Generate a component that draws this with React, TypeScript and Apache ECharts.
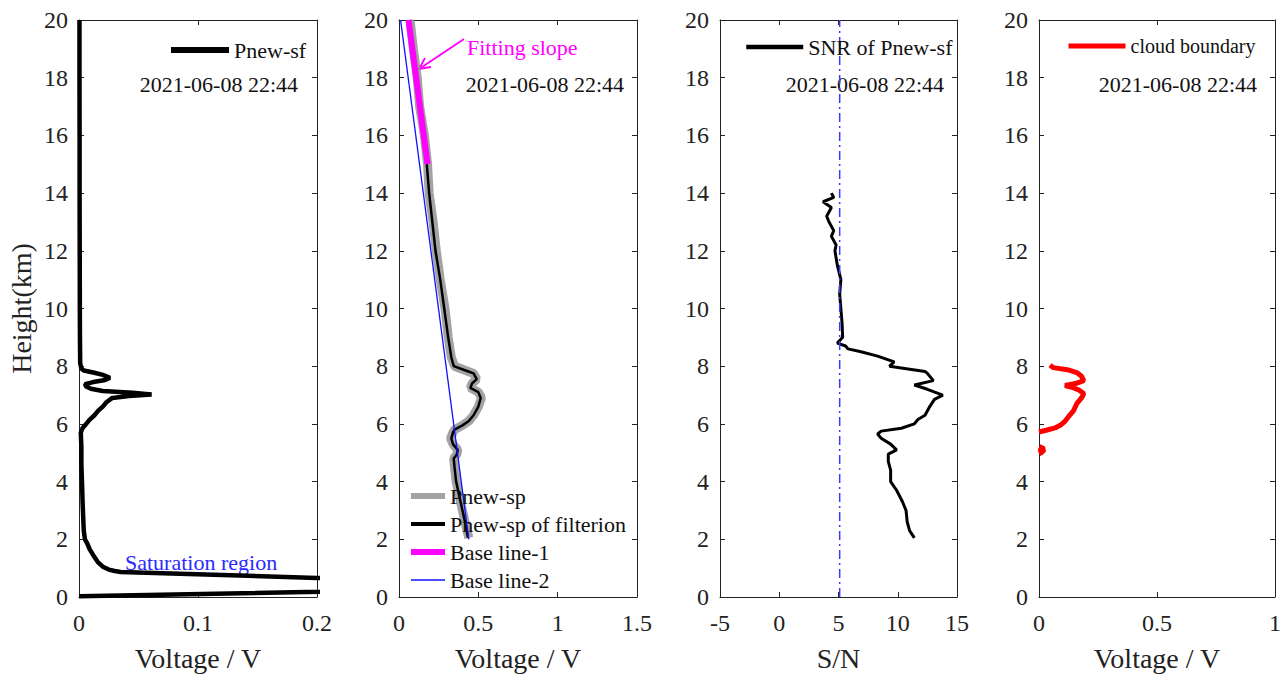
import React, { useEffect, useRef } from "react";
import * as echarts from "echarts";

const FONT = "Liberation Serif";

// Panel 1: Pnew-sf (height km, voltage V)
const sfHeight = [0.03, 0.4, 0.6, 0.66, 0.87, 0.9, 0.95, 1.05, 1.2, 1.45, 1.65, 1.85, 2.0, 2.3, 2.8, 3.3, 4.0, 4.6, 5.2, 5.69, 5.86, 6.0, 6.15, 6.3, 6.45, 6.6, 6.75, 6.9, 6.97, 7.02, 7.08, 7.14, 7.22, 7.3, 7.38, 7.45, 7.52, 7.6, 7.7, 7.78, 7.85, 7.92, 8.1, 9, 10, 12, 14, 16, 18, 20];
const sfVolt = [0.0, 0.5, 0.5, 0.2, 0.035, 0.03, 0.025, 0.02, 0.016, 0.012, 0.009, 0.007, 0.005, 0.004, 0.0035, 0.003, 0.0025, 0.002, 0.002, 0.0015, 0.003, 0.006, 0.009, 0.013, 0.016, 0.02, 0.023, 0.028, 0.042, 0.061, 0.045, 0.02, 0.01, 0.006, 0.005, 0.012, 0.022, 0.026, 0.02, 0.012, 0.004, 0.002, 0.001, 0.0008, 0.0007, 0.0006, 0.0005, 0.0005, 0.0004, 0.0004];

// Panel 2: Pnew-sp, filtered, base lines
const spHeight = [20, 19, 18, 17, 16, 15, 14, 13, 12, 11, 10, 9, 8.3, 8.0, 7.85, 7.75, 7.55, 7.4, 7.25, 7.1, 6.9, 6.6, 6.3, 6.1, 5.95, 5.8, 5.7, 5.5, 5.3, 5.1, 4.95, 4.8, 4.5, 4.0, 3.5, 3.0, 2.5, 2.05];
const spVolt = [0.07, 0.09, 0.115, 0.13, 0.16, 0.18, 0.19, 0.215, 0.235, 0.26, 0.29, 0.31, 0.33, 0.35, 0.42, 0.47, 0.49, 0.46, 0.45, 0.5, 0.52, 0.5, 0.47, 0.44, 0.4, 0.35, 0.34, 0.325, 0.34, 0.37, 0.365, 0.345, 0.35, 0.36, 0.38, 0.4, 0.42, 0.44];
const spFiltVolt = [0.065, 0.085, 0.11, 0.13, 0.155, 0.175, 0.19, 0.21, 0.23, 0.26, 0.285, 0.31, 0.33, 0.345, 0.42, 0.47, 0.49, 0.46, 0.45, 0.5, 0.515, 0.5, 0.47, 0.44, 0.4, 0.35, 0.34, 0.33, 0.34, 0.37, 0.365, 0.345, 0.35, 0.36, 0.38, 0.4, 0.42, 0.435];
const base1Height = [20, 15];
const base1Volt = [0.06, 0.18];
const base2Height = [20, 2];
const base2Volt = [0.01, 0.44];

// Panel 3: SNR
const snrHeight = [14.0, 13.85, 13.7, 13.5, 13.2, 13.0, 12.7, 12.5, 12.2, 12.0, 11.5, 11.0, 10.5, 10.0, 9.5, 9.0, 8.8, 8.7, 8.6, 8.5, 8.35, 8.15, 8.0, 7.82, 7.75, 7.5, 7.35, 7.2, 7.0, 6.85, 6.6, 6.3, 6.15, 6.0, 5.85, 5.75, 5.65, 5.5, 5.3, 5.1, 4.95, 4.7, 4.4, 4.0, 3.7, 3.3, 3.0, 2.6, 2.3, 2.05];
const snrValue = [4.4, 4.6, 3.7, 4.4, 4.0, 4.2, 4.6, 4.4, 4.8, 4.7, 4.9, 5.2, 5.1, 5.2, 5.3, 5.35, 4.9, 5.6, 5.8, 6.9, 8.3, 9.7, 9.3, 12.3, 12.5, 13.0, 11.4, 12.5, 13.8, 13.1, 12.7, 12.3, 11.7, 11.4, 10.3, 8.6, 8.3, 8.6, 9.4, 9.9, 9.2, 9.2, 9.4, 9.4, 9.9, 10.4, 10.7, 10.8, 11.0, 11.4];
const snrThreshold = 5.1;

// Panel 4: cloud boundary
const cloudHeight = [8.04, 7.95, 7.88, 7.78, 7.65, 7.5, 7.41, 7.33, 7.27, 7.17, 7.05, 6.9, 6.7, 6.44, 6.25, 6.09, 5.95, 5.86, 5.78, 5.72];
const cloudVolt = [0.047, 0.06, 0.12, 0.16, 0.18, 0.19, 0.16, 0.11, 0.14, 0.17, 0.19, 0.18, 0.16, 0.145, 0.125, 0.11, 0.09, 0.068, 0.03, 0.0];
const cloudHeight2 = [5.2, 5.12, 5.02, 4.98];
const cloudVolt2 = [0.0, 0.02, 0.01, 0.0];

const dateLabel = "2021-06-08 22:44";
const xNames = ["Voltage / V", "Voltage / V", "S/N", "Voltage / V"];
const xRanges = [
  [0, 0.2, 0.1],
  [0, 1.5, 0.5],
  [-5, 15, 5],
  [0, 1, 0.5],
];

const zip = (xs: number[], ys: number[]) => xs.map((x, i) => [x, ys[i]]);

const AX = "#222";

export default function App() {
  const ref = useRef<HTMLDivElement>(null);
  useEffect(() => {
    if (!ref.current) return;
    const chart = echarts.init(ref.current, null, { renderer: "svg" });
    const lefts = [79, 399, 720, 1039];
    const widths = [238, 238, 237, 236];
    const grid = lefts.map((l, i) => ({ left: l, top: 20, width: widths[i], height: 577 }));
    const xAxis: any[] = [];
    const yAxis: any[] = [];
    grid.forEach((_, i) => {
      const [mn, mx, iv] = xRanges[i];
      const common = {
        type: "value",
        gridIndex: i,
        min: mn,
        max: mx,
        interval: iv,
        splitLine: { show: false },
        axisLine: { show: true, onZero: false, lineStyle: { color: AX, width: 1 } },
        axisTick: { show: true, inside: true, length: 5, lineStyle: { color: AX } },
      };
      xAxis.push({
        ...common,
        position: "bottom",
        name: xNames[i],
        nameLocation: "middle",
        nameGap: 47,
        nameTextStyle: { fontFamily: FONT, fontSize: 28, color: AX },
        axisLabel: { fontFamily: FONT, fontSize: 24, color: AX, margin: 14 },
      });
      xAxis.push({ ...common, position: "top", axisLabel: { show: false } });
      const ycommon = {
        type: "value",
        gridIndex: i,
        min: 0,
        max: 20,
        interval: 2,
        splitLine: { show: false },
        axisLine: { show: true, onZero: false, lineStyle: { color: AX, width: 1 } },
        axisTick: { show: true, inside: true, length: 5, lineStyle: { color: AX } },
      };
      yAxis.push({
        ...ycommon,
        position: "left",
        name: i === 0 ? "Height(km)" : "",
        nameLocation: "middle",
        nameGap: 44,
        nameTextStyle: { fontFamily: FONT, fontSize: 28, color: AX },
        axisLabel: { fontFamily: FONT, fontSize: 24, color: AX, margin: 11 },
      });
      yAxis.push({ ...ycommon, position: "right", axisLabel: { show: false } });
    });

    const line = (name: string, gi: number, data: any[], color: string, width: number, extra: any = {}) => ({
      type: "line",
      name,
      xAxisIndex: gi * 2,
      yAxisIndex: gi * 2,
      data,
      symbol: "none",
      showSymbol: false,
      smooth: false,
      clip: true,
      lineStyle: { color, width, ...(extra.lineStyle || {}) },
      itemStyle: { color },
    });

    const series = [
      line("Pnew-sf", 0, zip(sfVolt, sfHeight), "#000", 4.5),
      line("Pnew-sp", 1, zip(spVolt, spHeight), "#8c8c8c", 9, { lineStyle: { opacity: 0.8 } }),
      line("Pnew-sp of filterion", 1, zip(spFiltVolt, spHeight), "#000", 2.5),
      line("Base line-1", 1, zip(base1Volt, base1Height), "#ff00ff", 6),
      line("Base line-2", 1, zip(base2Volt, base2Height), "#1010ff", 1.3),
      line("SNR of Pnew-sf", 2, zip(snrValue, snrHeight), "#000", 3),
      line("threshold", 2, [[snrThreshold, 0], [snrThreshold, 20]], "#3a3aff", 1.5, {
        lineStyle: { type: [9, 4, 2, 4] },
      }),
      line("cloud boundary", 3, zip(cloudVolt, cloudHeight), "#ff0000", 5),
      line("cloud boundary", 3, zip(cloudVolt2, cloudHeight2), "#ff0000", 6),
    ];

    const legendText = { fontFamily: FONT, fontSize: 22, color: "#111" };
    const hideSym = { opacity: 0, borderWidth: 0 };
    const item = (name: string, w: number) => ({ name, lineStyle: { width: w } });
    const legend = [
      {
        data: [item("Pnew-sf", 6)],
        left: 168,
        top: 39,
        itemWidth: 58,
        itemHeight: 4,
        itemGap: 4,
        itemStyle: hideSym,
        textStyle: legendText,
        padding: 0,
      },
      {
        data: [
          item("Pnew-sp", 6),
          item("Pnew-sp of filterion", 4),
          item("Base line-1", 6),
          item("Base line-2", 1.5),
        ],
        orient: "vertical",
        left: 408,
        top: 485,
        itemWidth: 34,
        itemHeight: 4,
        itemGap: 6,
        itemStyle: hideSym,
        textStyle: legendText,
        padding: 0,
      },
      {
        data: [item("SNR of Pnew-sf", 4.5)],
        left: 744,
        top: 36,
        itemWidth: 57,
        itemHeight: 4,
        itemStyle: hideSym,
        textStyle: legendText,
        padding: 0,
      },
      {
        data: [item("cloud boundary", 5)],
        left: 1066,
        top: 36,
        itemWidth: 57,
        itemHeight: 4,
        itemStyle: hideSym,
        textStyle: { ...legendText, fontSize: 20 },
        padding: 0,
      },
    ];

    const dateRights = [298, 624, 944, 1257];
    const graphic: any[] = dateRights.map((r) => ({
      type: "text",
      right: 1288 - r,
      top: 73,
      style: { text: dateLabel, fontFamily: FONT, fontSize: 22, fill: "#111" },
      silent: true,
    }));
    graphic.push({
      type: "text",
      left: 125,
      top: 551,
      style: { text: "Saturation region", fontFamily: FONT, fontSize: 22, fill: "#2a2aff" },
    });
    graphic.push({
      type: "text",
      left: 467,
      top: 36,
      style: { text: "Fitting slope", fontFamily: FONT, fontSize: 22, fill: "#ff00ff" },
    });
    graphic.push({
      type: "line",
      shape: { x1: 464, y1: 39, x2: 419, y2: 69 },
      style: { stroke: "#ff00ff", lineWidth: 1.8 },
    });
    graphic.push({
      type: "polyline",
      shape: { points: [[431, 67], [419, 69], [425, 58]] },
      style: { stroke: "#ff00ff", lineWidth: 1.8, fill: null },
    });

    chart.setOption({
      animation: false,
      backgroundColor: "#fff",
      grid,
      xAxis,
      yAxis,
      legend,
      series,
      graphic,
    });
    return () => chart.dispose();
  }, []);
  return (
    <div
      ref={ref}
      style={{ position: "fixed", left: 0, top: 0, width: 1288, height: 678, background: "#fff" }}
    />
  );
}
